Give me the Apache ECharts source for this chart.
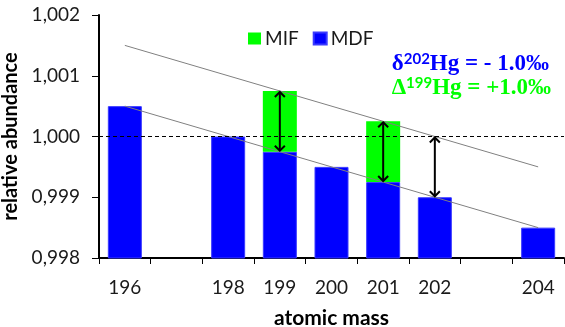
<!DOCTYPE html>
<html>
<head>
<meta charset="utf-8">
<script src="https://cdn.jsdelivr.net/npm/echarts@6/dist/echarts.min.js"></script>
<style>
html, body { margin: 0; padding: 0; background: #fff; }
#chart { width: 565px; height: 327px; }
</style>
</head>
<body>
<div id="chart"></div>
<script>
// atomic masses (categories) and relative abundances
var masses = ['196', '197', '198', '199', '200', '201', '202', '203', '204'];
var mdfValues = [1.0005, null, 1.0000, 0.99975, 0.9995, 0.99925, 0.9990, null, 0.9985];
var mifValues = [null, null, null, 0.0010, null, 0.0010, null, null, null];
// thin grey guide lines (end points only)
var lowLine = [1.0005, null, null, null, null, null, null, null, 0.9985];
var highLine = [1.0015, null, null, null, null, null, null, null, 0.9995];
// double arrows
var arrowMass = ['199', '201', '202'];
var arrowFrom = [0.99975, 0.99925, 0.9990];
var arrowTo = [1.00075, 1.00025, 1.0000];
var yMin = 0.998, yMax = 1.002, yStep = 0.001;

var myChart = echarts.init(document.getElementById('chart'));
var font = 'Lato, "Open Sans", sans-serif';
var serif = '"Liberation Serif", "DejaVu Serif", serif';

var arrowData = [];
for (var i = 0; i < arrowMass.length; i++) {
	arrowData.push([masses.indexOf(arrowMass[i]), arrowFrom[i], arrowTo[i]]);
}

function formulaStyle(text, color) {
	return {
		text: text,
		fill: color,
		align: 'right',
		verticalAlign: 'middle',
		rich: {
			a: { fontFamily: serif, fontSize: 23, fontWeight: 'bold', fill: color, lineHeight: 24 },
			s: { fontFamily: font, fontSize: 15, fontWeight: 'bold', fill: color, lineHeight: 24, verticalAlign: 'top' }
		}
	};
}

var option = {
	animation: false,
	grid: { left: 99, right: 1, top: 15, bottom: 69, outerBoundsMode: 'none' },
	legend: {
		data: ['MIF', 'MDF'],
		left: 243,
		top: 24,
		itemWidth: 13,
		itemHeight: 12,
		itemGap: 14,
		icon: 'rect',
		textStyle: { fontFamily: font, fontSize: 19, color: '#1a1a1a', padding: [0, 0, 0, -1] }
	},
	xAxis: {
		type: 'category',
		data: masses,
		name: 'atomic mass',
		nameLocation: 'middle',
		nameGap: 50,
		nameTextStyle: { fontFamily: font, fontSize: 21, fontWeight: 'bold', color: '#000' },
		axisLine: { lineStyle: { color: '#000', width: 2 } },
		axisTick: { show: true, interval: 0, length: 6, lineStyle: { color: '#000', width: 1 } },
		axisLabel: {
			interval: 0,
			margin: 20,
			fontFamily: font,
			fontSize: 19,
			color: '#1a1a1a',
			formatter: function (v, idx) { return mdfValues[idx] === null ? '' : v; }
		}
	},
	yAxis: {
		type: 'value',
		min: yMin,
		max: yMax,
		interval: yStep,
		name: 'relative abundance',
		nameLocation: 'middle',
		nameGap: 73,
		nameTextStyle: { fontFamily: font, fontSize: 20, fontWeight: 'bold', color: '#000' },
		axisLine: { show: true, lineStyle: { color: '#000', width: 2 } },
		axisTick: { show: true, length: 7, lineStyle: { color: '#000', width: 1 } },
		splitLine: { show: false },
		axisLabel: {
			margin: 19,
			fontFamily: font,
			fontSize: 19,
			color: '#1a1a1a',
			formatter: function (v) { return v.toFixed(3).replace('.', ','); }
		}
	},
	graphic: [
		{ type: 'text', x: 549, y: 64, z: 100, style: formulaStyle('{a|δ}{s|202}{a|Hg = - 1.0‰}', '#0000ff') },
		{ type: 'text', x: 551, y: 88, z: 100, style: formulaStyle('{a|Δ}{s|199}{a|Hg = +1.0‰}', '#00ff00') }
	],
	series: [
		{
			name: 'MDF',
			type: 'bar',
			stack: 'hg',
			data: mdfValues,
			barWidth: 34,
			itemStyle: { color: '#0000ff', borderColor: '#3a3aff', borderWidth: 1 },
			z: 2,
			markLine: {
				silent: true,
				symbol: 'none',
				label: { show: false },
				lineStyle: { color: '#000', type: [4, 3], width: 1 },
				data: [{ yAxis: 1.000 }],
				z: 5
			}
		},
		{
			name: 'MIF',
			type: 'bar',
			stack: 'hg',
			data: mifValues,
			barWidth: 34,
			itemStyle: { color: '#00ff00' },
			z: 2
		},
		{
			name: 'low',
			type: 'line',
			data: lowLine,
			connectNulls: true,
			symbol: 'none',
			lineStyle: { color: '#808080', width: 1 },
			z: 4
		},
		{
			name: 'high',
			type: 'line',
			data: highLine,
			connectNulls: true,
			symbol: 'none',
			lineStyle: { color: '#808080', width: 1 },
			z: 4
		},
		{
			name: 'arrows',
			type: 'custom',
			data: arrowData,
			encode: { x: 0, y: [1, 2] },
			z: 6,
			renderItem: function (params, api) {
				var lo = api.coord([api.value(0), api.value(1)]);
				var hi = api.coord([api.value(0), api.value(2)]);
				var w = 5, h = 6;
				var st = { stroke: '#000', lineWidth: 2, fill: null };
				return {
					type: 'group',
					children: [
						{ type: 'line', shape: { x1: hi[0], y1: hi[1] + 1, x2: lo[0], y2: lo[1] - 1 }, style: st },
						{ type: 'polyline', shape: { points: [[hi[0] - w, hi[1] + h], [hi[0], hi[1] + 1], [hi[0] + w, hi[1] + h]] }, style: st },
						{ type: 'polyline', shape: { points: [[lo[0] - w, lo[1] - h], [lo[0], lo[1] - 1], [lo[0] + w, lo[1] - h]] }, style: st }
					]
				};
			}
		}
	]
};
myChart.setOption(option);
</script>
</body>
</html>
